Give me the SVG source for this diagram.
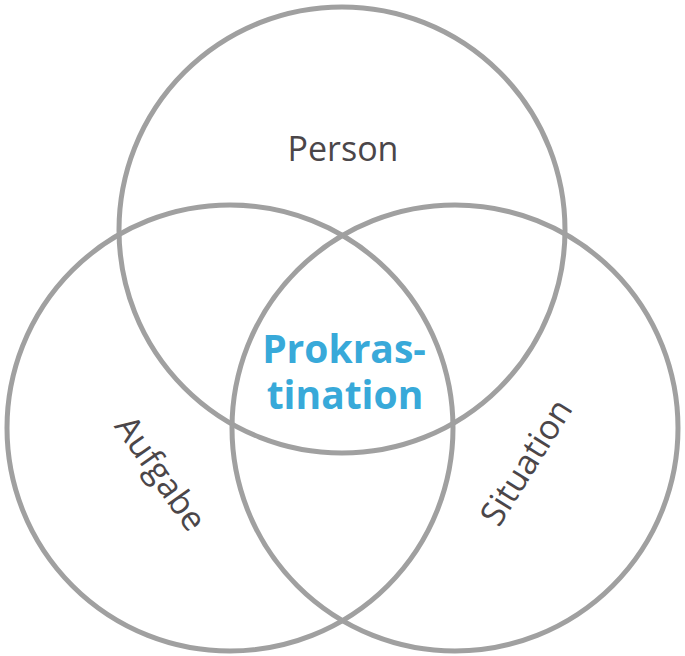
<svg xmlns="http://www.w3.org/2000/svg" width="685" height="656" viewBox="0 0 685 656">
<style>
.c{fill:none;stroke:#a0a0a0;stroke-width:5}
.t{font-family:"Open Sans","Noto Sans",sans-serif;font-size:34px;fill:#4b4649;text-anchor:middle}
.m{font-family:"Open Sans","Noto Sans",sans-serif;font-size:39px;font-weight:bold;fill:#38a9d9;text-anchor:middle}
</style>
<rect width="685" height="656" fill="#ffffff"/>
<g id="person"><circle class="c" cx="342" cy="230" r="223"/><text class="t" x="343" y="161">Person</text></g>
<g id="aufgabe"><circle class="c" cx="230" cy="428" r="223"/><text class="t" transform="translate(161,473) rotate(55)" x="0" y="12">Aufgabe</text></g>
<g id="situation"><circle class="c" cx="455" cy="428" r="223"/><text class="t" transform="translate(526,462) rotate(-58)" x="0" y="12">Situation</text></g>
<g id="prokrastination"><text class="m"><tspan x="344" y="363">Prokras-</tspan><tspan x="345" y="409">tination</tspan></text></g>
<g id="connectors"></g>
</svg>
